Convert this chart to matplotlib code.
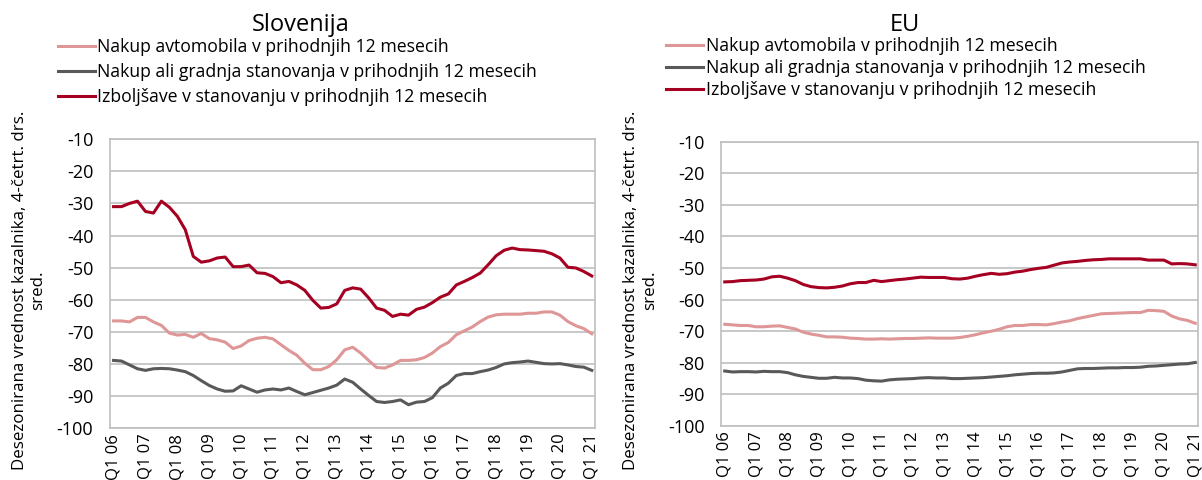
import matplotlib
matplotlib.use("Agg")
import matplotlib.pyplot as plt

plt.rcParams['font.family'] = ['Open Sans', 'DejaVu Sans']
plt.rcParams['axes.unicode_minus'] = False

# quarterly labels Q1 06 .. Q1 21
quarters = ["Q%d %02d" % (q, y) for y in range(6, 22) for q in range(1, 5)][:61]

series_names = [
    "Nakup avtomobila v prihodnjih 12 mesecih",
    "Nakup ali gradnja stanovanja v prihodnjih 12 mesecih",
    "Izboljšave v stanovanju v prihodnjih 12 mesecih",
]

si_car = [-66.6, -66.6, -66.9, -65.5, -65.5, -66.9, -68.0, -70.4, -71.0, -70.8,
          -71.7, -70.5, -72.1, -72.5, -73.2, -75.2, -74.4, -72.7, -72.0, -71.7,
          -72.2, -74.0, -75.8, -77.3, -79.8, -81.8, -81.8, -80.8, -78.7, -75.6,
          -74.8, -76.6, -78.9, -81.1, -81.3, -80.3, -78.9, -78.9, -78.7, -78.0,
          -76.6, -74.6, -73.3, -70.9, -69.7, -68.5, -66.8, -65.4, -64.7, -64.5,
          -64.5, -64.5, -64.2, -64.2, -63.8, -63.8, -64.8, -66.8, -68.1, -69.0,
          -70.6]
si_house = [-78.9, -79.1, -80.3, -81.5, -82.0, -81.5, -81.4, -81.5, -81.9, -82.4,
            -83.6, -85.2, -86.7, -87.8, -88.5, -88.4, -86.8, -87.8, -88.8, -88.1,
            -87.8, -88.1, -87.5, -88.6, -89.6, -88.9, -88.2, -87.5, -86.6, -84.7,
            -85.7, -87.8, -89.8, -91.7, -92.0, -91.7, -91.2, -92.7, -91.9, -91.7,
            -90.5, -87.5, -86.0, -83.6, -83.0, -83.0, -82.4, -81.9, -81.1, -80.0,
            -79.6, -79.4, -79.1, -79.5, -79.9, -80.0, -79.9, -80.3, -80.8, -81.0,
            -82.0]
si_improve = [-31.0, -31.0, -30.0, -29.3, -32.5, -33.0, -29.3, -31.2, -34.0, -38.2,
              -46.5, -48.3, -47.9, -47.0, -46.7, -49.7, -49.7, -49.2, -51.6, -51.8,
              -52.8, -54.7, -54.3, -55.4, -57.1, -60.2, -62.6, -62.4, -61.3, -57.1,
              -56.3, -56.7, -59.4, -62.6, -63.3, -65.2, -64.5, -64.8, -63.0, -62.3,
              -60.9, -59.2, -58.2, -55.4, -54.3, -53.1, -51.7, -49.1, -46.3, -44.6,
              -43.9, -44.4, -44.5, -44.7, -44.9, -45.7, -47.0, -49.9, -50.1, -51.2,
              -52.6]

eu_car = [-67.8, -68.0, -68.2, -68.2, -68.6, -68.6, -68.4, -68.3, -68.8, -69.3,
          -70.3, -70.9, -71.3, -71.8, -71.8, -71.9, -72.2, -72.3, -72.5, -72.5,
          -72.4, -72.5, -72.4, -72.3, -72.3, -72.2, -72.1, -72.2, -72.2, -72.2,
          -72.0, -71.6, -71.1, -70.5, -70.0, -69.4, -68.6, -68.2, -68.2, -67.9,
          -67.9, -68.0, -67.6, -67.1, -66.7, -66.0, -65.5, -65.0, -64.5, -64.4,
          -64.3, -64.2, -64.1, -64.1, -63.4, -63.5, -63.7, -65.2, -66.1, -66.6,
          -67.5]
eu_house = [-82.6, -82.9, -82.8, -82.8, -82.9, -82.7, -82.8, -82.8, -83.1, -83.8,
            -84.3, -84.6, -84.9, -84.9, -84.6, -84.8, -84.8, -85.0, -85.5, -85.7,
            -85.8, -85.4, -85.2, -85.1, -85.0, -84.8, -84.7, -84.8, -84.8, -85.0,
            -85.0, -84.9, -84.8, -84.7, -84.5, -84.3, -84.1, -83.8, -83.6, -83.4,
            -83.3, -83.3, -83.2, -82.9, -82.4, -81.9, -81.8, -81.8, -81.7, -81.6,
            -81.6, -81.5, -81.5, -81.4, -81.1, -81.0, -80.8, -80.6, -80.4, -80.3,
            -79.9]
eu_improve = [-54.4, -54.3, -54.0, -53.9, -53.8, -53.5, -52.8, -52.6, -53.2, -54.0,
              -55.2, -55.9, -56.2, -56.3, -56.1, -55.7, -55.0, -54.6, -54.6, -53.9,
              -54.3, -54.0, -53.7, -53.5, -53.2, -52.9, -53.0, -53.0, -53.0, -53.4,
              -53.5, -53.2, -52.6, -52.1, -51.7, -52.0, -51.8, -51.3, -51.0, -50.5,
              -50.1, -49.8, -49.1, -48.4, -48.1, -47.9, -47.6, -47.4, -47.3, -47.1,
              -47.1, -47.1, -47.1, -47.1, -47.5, -47.5, -47.5, -48.7, -48.6, -48.7,
              -49.0]

colors = ["#DE9696", "#595959", "#A50021"]
ylabel = "Desezonirana vrednost kazalnika, 4-četrt. drs.\nsred."


def draw_panel(ax, title, data, title_x, legend_xy, spacing, label_x):
    x = range(len(quarters))
    for vals, col, name in zip(data, colors, series_names):
        ax.plot(x, vals, color=col, lw=2.2, label=name)
    ax.set_ylim(-100, -10)
    ax.set_yticks(range(-100, 0, 10))
    ax.set_xlim(-0.45, 60.4)
    ax.set_xticks(range(0, 61, 4))
    ax.set_xticklabels(quarters[::4], rotation=90, fontsize=12)
    ax.tick_params(axis='y', labelsize=13, length=0, pad=12)
    ax.tick_params(axis='x', length=0, pad=4)
    ax.grid(axis='y', color='#BFBFBF', lw=1.2)
    ax.set_axisbelow(True)
    for s in ax.spines.values():
        s.set_color('#BFBFBF')
        s.set_linewidth(1.2)
    fig.text(title_x, 0.948, title, fontsize=17, ha='center', va='center')
    fig.legend(*ax.get_legend_handles_labels(), loc='upper left',
               bbox_to_anchor=legend_xy, frameon=False, fontsize=12.7,
               handlelength=2.1, handletextpad=0.15, labelspacing=spacing,
               borderaxespad=0, borderpad=0)
    fig.text(label_x, 0.395, ylabel, rotation=90, fontsize=12.2,
             ha='center', va='center', multialignment='center')


fig = plt.figure(figsize=(12.02, 4.8), dpi=100)
ax1 = fig.add_axes([0.0915, 0.108, 0.4035, 0.602])
ax2 = fig.add_axes([0.600, 0.1125, 0.397, 0.5925])

draw_panel(ax1, "Slovenija", [si_car, si_house, si_improve], 0.25,
           (0.048, 0.92), 0.38, 0.024)
draw_panel(ax2, "EU", [eu_car, eu_house, eu_improve], 0.753,
           (0.554, 0.922), 0.22, 0.533)

fig.savefig("out.png", dpi=100)
